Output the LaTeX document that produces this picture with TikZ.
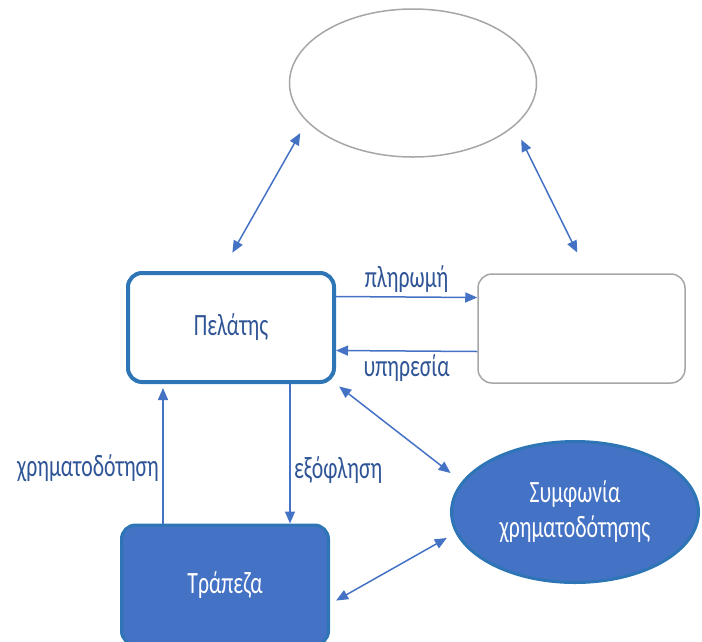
\documentclass[tikz,border=0pt]{standalone}
\usepackage{fontspec}
\setmainfont[FakeStretch=0.7]{Carlito}
\usetikzlibrary{arrows.meta,shapes.geometric}
\definecolor{fillblue}{RGB}{68,114,196}
\definecolor{edgeblue}{RGB}{46,117,182}
\definecolor{textblue}{RGB}{47,85,151}
\definecolor{boxgray}{RGB}{166,166,166}
\begin{document}
\begin{tikzpicture}[x=1pt,y=-1pt,
  txt/.style={font=\fontsize{31}{35}\selectfont,text=textblue},
  arr/.style={draw=fillblue,line width=1.5pt,-{Triangle[length=12pt,width=10pt]}},
  dbl/.style={arr,{Triangle[length=12pt,width=10pt]}-{Triangle[length=12pt,width=10pt]}},
  whitebox/.style={txt,draw=edgeblue,line width=4pt,rounded corners=14pt,minimum width=206pt,minimum height=109pt},
  graybox/.style={draw=boxgray,line width=1.5pt,rounded corners=14pt,minimum width=207pt,minimum height=109pt},
  bluebox/.style={txt,text=white,fill=fillblue,draw=edgeblue,line width=3pt,rounded corners=14pt,minimum width=207pt,minimum height=120pt},
  blueoval/.style={ellipse,txt,text=white,align=center,fill=fillblue,draw=edgeblue,line width=3pt,minimum width=247pt,minimum height=141pt},
  grayoval/.style={ellipse,draw=boxgray,line width=1.5pt,minimum width=247pt,minimum height=148pt}]
\useasboundingbox (0,0) rectangle (702,641);
\node[grayoval] (top) at (413,83) {};
\node[whitebox] (cust) at (231,327.5) {Πελάτης};
\node[graybox] (gray) at (581.5,328.5) {};
\node[bluebox] (bank) at (225,585) {Τράπεζα};
\node[blueoval] (agree) at (575,512) {Συμφωνία\\χρηματοδότησης};
% top oval
\draw[dbl,shorten <=13pt,shorten >=21pt] (top.200) -- ([xshift=-9pt]cust.north);
\draw[dbl,shorten <=15pt,shorten >=23pt] (top.-23) -- ([xshift=6pt]gray.north);
% customer and provider
\draw[arr] ([yshift=31pt]cust.east) -- ([yshift=31pt]gray.west) node[midway,above,txt] {πληρωμή};
\draw[arr] ([yshift=-23pt]gray.west) -- ([yshift=-23pt]cust.east) node[midway,below,txt] {υπηρεσία};
% customer and bank
\draw[arr,shorten >=4pt] ([xshift=-62pt]bank.north) -- ([xshift=-62pt]bank.north |- cust.south) node[pos=0.4,left,txt] {χρηματοδότηση};
\draw[arr] ([xshift=59pt]cust.south) -- ([xshift=59pt]cust.south |- bank.north) node[pos=0.62,right,txt] {εξόφληση};
% agreement
\draw[dbl,shorten <=4pt,shorten >=14pt] (cust.south east) -- (agree.165);
\draw[dbl,shorten <=7pt,shorten >=10pt] ([yshift=-19pt]bank.east) -- (agree.190);
\end{tikzpicture}
\end{document}
